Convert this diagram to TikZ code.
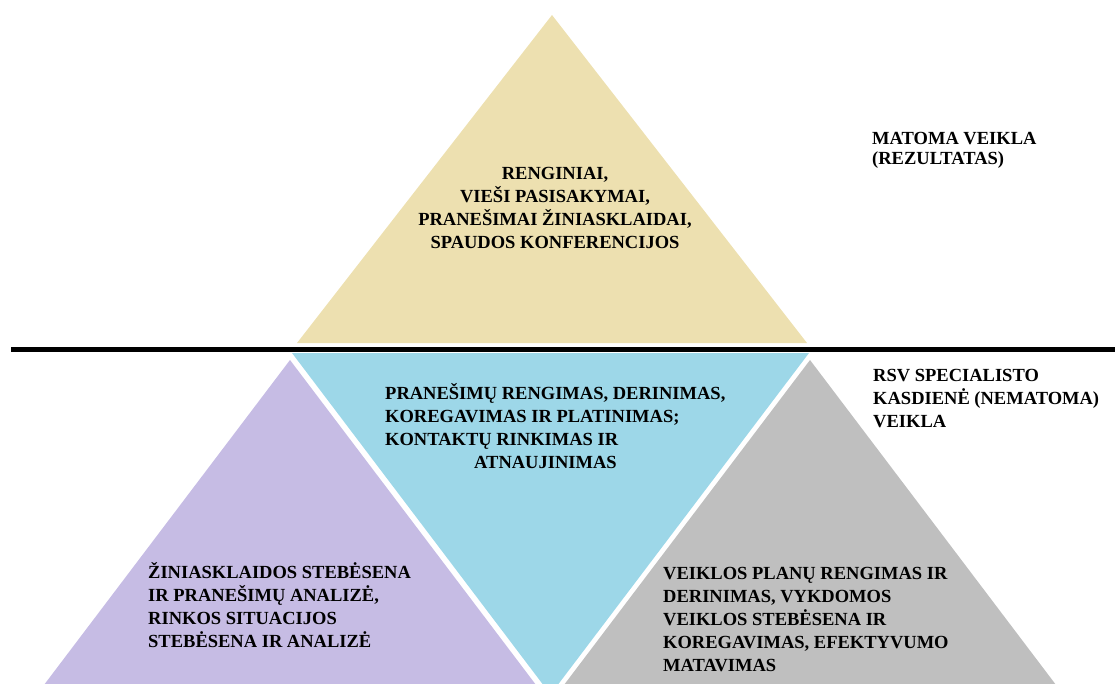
\documentclass[tikz,border=0pt]{standalone}
\usepackage{fontspec}
\setmainfont{Liberation Serif}
\definecolor{tanfill}{RGB}{237,224,176}
\definecolor{skyfill}{RGB}{157,215,232}
\definecolor{lilacfill}{RGB}{198,188,228}
\definecolor{greyfill}{RGB}{191,191,191}
\newcommand{\lnstrut}{\rule{0pt}{17pt}}
\begin{document}
\begin{tikzpicture}[x=1pt,y=-1pt,
  lbl/.style={font=\bfseries\fontsize{18.5}{23}\selectfont, inner sep=0pt,
              align=left, text=black, anchor=north west},
  lblc/.style={lbl, align=center, anchor=north},
  lbltight/.style={lbl, font=\bfseries\fontsize{18.5}{20}\selectfont}]
\useasboundingbox (0,0) rectangle (1115,684);

% pyramid pieces
\begin{scope}
  \clip (0,0) rectangle (1115,684);
  \fill[tanfill]   (297,343) -- (807,343) -- (552,15) -- cycle;
  \fill[lilacfill] (290,360) -- (32.6,700) -- (547.4,700) -- cycle;
  \fill[greyfill]  (810,360) -- (552.6,700) -- (1067.4,700) -- cycle;
  \fill[skyfill]   (292,353) -- (809,353) -- (550.5,694.5) -- cycle;
\end{scope}

% dividing rule
\coordinate (ruleL) at (11,349);
\coordinate (ruleR) at (1115,349);
\draw[line width=5pt] (ruleL) -- (ruleR);

% texts (first baseline = top + 17)
\node[lblc] (top) at (555,162) {\lnstrut RENGINIAI,\\VIEŠI PASISAKYMAI,\\PRANEŠIMAI ŽINIASKLAIDAI,\\SPAUDOS KONFERENCIJOS};
\node[lbltight] (visible) at (872,127) {\lnstrut MATOMA VEIKLA\\(REZULTATAS)};
\node[lbl] (hidden) at (873,364) {\lnstrut RSV SPECIALISTO\\KASDIENĖ (NEMATOMA)\\VEIKLA};
\node[lbl] (centre) at (385,382) {\lnstrut PRANEŠIMŲ RENGIMAS, DERINIMAS,\\KOREGAVIMAS IR PLATINIMAS;\\KONTAKTŲ RINKIMAS IR\\\hspace*{89pt}ATNAUJINIMAS};
\node[lbl] (left) at (148,561) {\lnstrut ŽINIASKLAIDOS STEBĖSENA\\IR PRANEŠIMŲ ANALIZĖ,\\RINKOS SITUACIJOS\\STEBĖSENA IR ANALIZĖ};
\node[lbl] (right) at (663,562) {\lnstrut VEIKLOS PLANŲ RENGIMAS IR\\DERINIMAS, VYKDOMOS\\VEIKLOS STEBĖSENA IR\\KOREGAVIMAS, EFEKTYVUMO\\MATAVIMAS};
\end{tikzpicture}
\end{document}
